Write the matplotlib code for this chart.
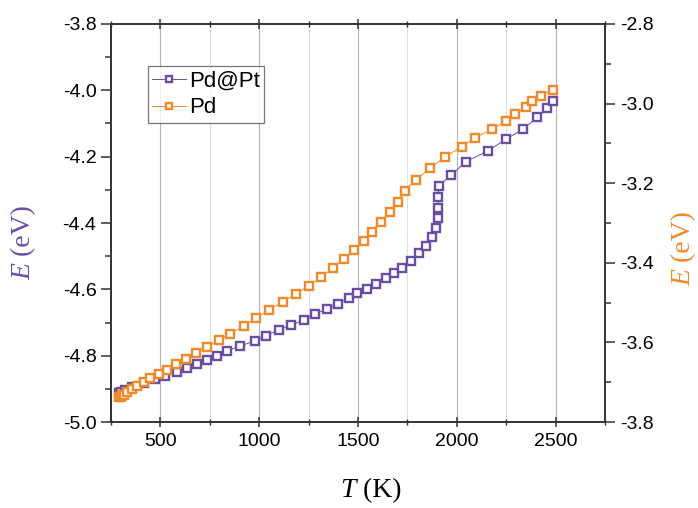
import matplotlib
matplotlib.use('Agg')
import matplotlib.pyplot as plt
from matplotlib.ticker import MultipleLocator

# Pd@Pt (linke Achse)
t_pdpt = [290, 300, 320, 356, 415, 475, 525, 585, 635, 686, 736, 787, 838,
          905, 981, 1032, 1099, 1163, 1226, 1281, 1344, 1399, 1453, 1496,
          1546, 1593, 1639, 1681, 1724, 1766, 1808, 1842, 1876, 1893, 1906,
          1906, 1906, 1908, 1972, 2046, 2156, 2250, 2335, 2407, 2458, 2486]
e_pdpt = [-4.912, -4.908, -4.903, -4.894, -4.882, -4.870, -4.862, -4.850,
          -4.837, -4.825, -4.812, -4.800, -4.785, -4.770, -4.755, -4.740,
          -4.722, -4.707, -4.692, -4.674, -4.659, -4.643, -4.626, -4.612,
          -4.598, -4.584, -4.567, -4.552, -4.535, -4.515, -4.491, -4.470,
          -4.443, -4.415, -4.385, -4.355, -4.322, -4.288, -4.255, -4.215,
          -4.183, -4.147, -4.117, -4.082, -4.054, -4.031]

# Pd (rechte Achse)
t_pd = [292, 300, 306, 315, 331, 356, 382, 415, 449, 491, 534, 579, 627,
        680, 736, 795, 854, 922, 985, 1049, 1119, 1187, 1251, 1314, 1373,
        1428, 1480, 1529, 1572, 1617, 1661, 1702, 1736, 1791, 1865, 1942,
        2027, 2089, 2179, 2247, 2296, 2351, 2378, 2424, 2486]
e_pd = [-3.738, -3.736, -3.733, -3.731, -3.725, -3.717, -3.709, -3.699,
        -3.690, -3.680, -3.668, -3.655, -3.641, -3.626, -3.611, -3.594,
        -3.578, -3.559, -3.538, -3.518, -3.498, -3.478, -3.457, -3.436,
        -3.412, -3.391, -3.367, -3.344, -3.322, -3.297, -3.272, -3.247,
        -3.219, -3.192, -3.162, -3.133, -3.108, -3.086, -3.065, -3.044,
        -3.026, -3.008, -2.994, -2.980, -2.965]

lila = '#6a4ea6'
orange = '#f0892a'
achse = '#333333'

plt.rcParams['font.family'] = ['Liberation Sans', 'DejaVu Sans']

fig = plt.figure(figsize=(6.98, 5.08), dpi=100)
ax = fig.add_axes([0.159, 0.169, 0.708, 0.784])
ax2 = ax.twinx()

# Gitter
ax.xaxis.set_major_locator(MultipleLocator(500))
ax.xaxis.set_minor_locator(MultipleLocator(250))
ax.grid(True, which='major', axis='x', color='#b5b5b5', lw=0.8)
ax.grid(True, which='minor', axis='x', color='#dedede', lw=0.8)
ax.set_axisbelow(True)

l1, = ax.plot(t_pdpt, e_pdpt, '-', color=lila, lw=0.7, marker='s', ms=6,
              mfc='white', mec=lila, mew=1.7, label='Pd@Pt', zorder=3)
l2, = ax2.plot(t_pd, e_pd, '-', color=orange, lw=0.7, marker='s', ms=6,
               mfc='white', mec=orange, mew=1.7, label='Pd', zorder=3)

ax.set_xlim(250, 2750)
ax.set_ylim(-5.0, -3.8)
ax2.set_ylim(-3.8, -2.8)

ax.yaxis.set_major_locator(MultipleLocator(0.2))
ax.yaxis.set_minor_locator(MultipleLocator(0.1))
ax2.yaxis.set_major_locator(MultipleLocator(0.2))
ax2.yaxis.set_minor_locator(MultipleLocator(0.1))
ax.yaxis.set_major_formatter(plt.FuncFormatter(lambda v, p: f'{v:.1f}'))
ax2.yaxis.set_major_formatter(plt.FuncFormatter(lambda v, p: f'{v:.1f}'))

for a in (ax, ax2):
    for s in a.spines.values():
        s.set_color(achse)
        s.set_linewidth(1.2)

ax.tick_params(axis='x', which='both', direction='inout', top=True,
               labelsize=14, color=achse, pad=4)
ax.tick_params(axis='x', which='major', length=7, width=1.1)
ax.tick_params(axis='x', which='minor', length=4, width=1.0)
ax.tick_params(axis='y', which='both', direction='out', labelsize=14,
               color=achse, width=1.1)
ax.tick_params(axis='y', which='major', length=7)
ax.tick_params(axis='y', which='minor', length=4)
ax2.tick_params(axis='y', which='both', direction='out', labelsize=14,
                color=achse, width=1.1)
ax2.tick_params(axis='y', which='major', length=7)
ax2.tick_params(axis='y', which='minor', length=4)

# Achsenbeschriftungen (kursives Symbol + Einheit)
serif = ['Liberation Serif', 'DejaVu Serif']
fig.text(0.51, 0.035, 'T', fontsize=20, family=serif, style='italic',
         ha='right', va='center')
fig.text(0.51, 0.035, ' (K)', fontsize=20, family=serif,
         ha='left', va='center')
fig.text(0.034, 0.482, 'E', fontsize=20, family=serif, style='italic',
         color=lila, rotation=90, ha='center', va='top')
fig.text(0.034, 0.482, ' (eV)', fontsize=20, family=serif,
         color=lila, rotation=90, ha='center', va='bottom')
fig.text(0.979, 0.47, 'E', fontsize=20, family=serif, style='italic',
         color=orange, rotation=90, ha='center', va='top')
fig.text(0.979, 0.47, ' (eV)', fontsize=20, family=serif,
         color=orange, rotation=90, ha='center', va='bottom')

leg = ax.legend([l1, l2], ['Pd@Pt', 'Pd'], loc='upper left',
                bbox_to_anchor=(0.075, 0.893), fontsize=16, frameon=True,
                fancybox=False, handlelength=1.5, handletextpad=0.15,
                borderpad=0.2, labelspacing=0.25, markerscale=0.7,
                borderaxespad=0)
leg.get_frame().set_edgecolor('#555555')
leg.get_frame().set_linewidth(0.9)

fig.savefig('out.png', dpi=100)
